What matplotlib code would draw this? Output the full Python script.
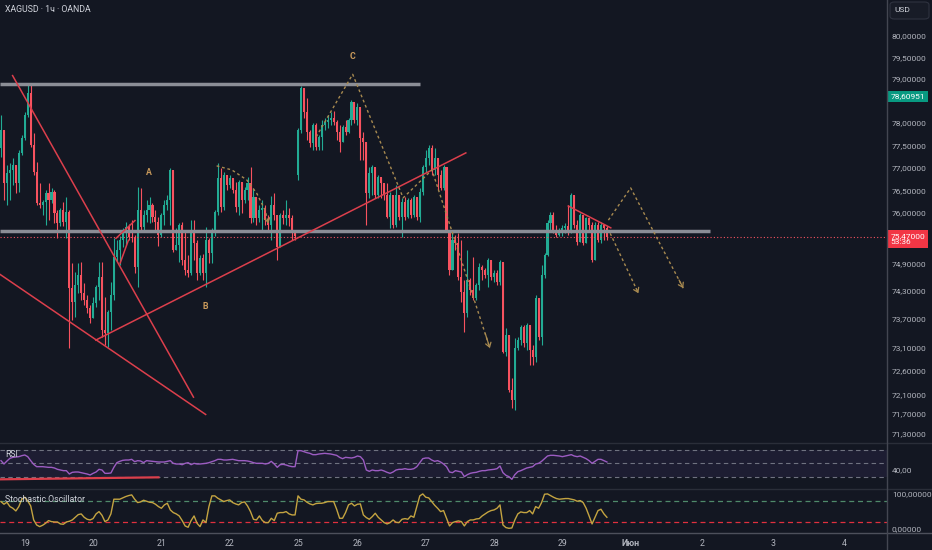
import numpy as np
import matplotlib
matplotlib.use("Agg")
import matplotlib.pyplot as plt
from matplotlib.lines import Line2D
from matplotlib.patches import FancyBboxPatch
from matplotlib.ticker import NullLocator

plt.rcParams['font.family'] = ['Roboto', 'DejaVu Sans']

# ---- data (XAGUSD, 1h bars) ----
day_labels = ['19', '20', '21', '22', '25', '26', '27', '28', '29', 'Июн', '2', '3', '4']
day_bars = [8, 31, 54, 77, 100, 120, 143, 166, 189, 212, 236, 260, 284]

first_open = 77.44
monday_open = 76.84     # gap open of bar 100 (Mon 25)

close_px = [
    77.85, 76.66, 76.88, 76.95, 77.06, 76.66, 77.33, 77.66, 78.18, 78.68,
    77.51, 76.90, 76.22, 76.17, 76.24, 76.44, 76.28, 76.46, 76.00, 75.78,
    76.06, 75.80, 76.02, 74.36, 74.06, 74.43, 74.64, 74.26, 74.11, 73.93,
    73.72, 74.04, 74.39, 74.60, 73.46, 73.40, 73.85, 74.21, 75.03, 75.19,
    75.40, 75.56, 75.69, 75.47, 75.45, 74.82, 76.06, 75.69, 75.95, 76.06,
    76.17, 75.91, 75.80, 75.51, 75.95, 76.17, 76.28, 76.95, 75.19, 75.29,
    75.73, 74.97, 74.75, 74.69, 75.56, 75.34, 74.69, 75.01, 74.69, 75.40,
    75.12, 75.56, 76.02, 76.77, 76.13, 76.84, 76.62, 76.77, 76.50, 76.13,
    76.68, 76.28, 76.50, 76.66, 75.89, 76.35, 75.89, 76.06, 76.11, 75.84,
    75.73, 76.17, 75.95, 75.25, 75.95, 75.89, 75.95, 75.89, 75.56, 75.49,
    77.85, 78.80, 78.25, 77.80, 77.55, 77.96, 77.46, 77.69, 77.96, 78.03,
    78.07, 78.12, 78.03, 77.80, 77.57, 77.91, 77.80, 78.07, 78.48, 78.07,
    78.36, 77.66, 77.57, 76.44, 76.88, 77.02, 76.39, 76.79, 76.66, 76.39,
    75.91, 76.39, 75.73, 76.39, 75.91, 76.24, 75.91, 76.28, 75.95, 76.35,
    75.91, 76.46, 77.02, 77.22, 77.44, 76.95, 77.22, 76.84, 76.55, 77.02,
    75.62, 74.75, 75.40, 75.34, 74.60, 74.28, 73.83, 74.54, 74.32, 74.15,
    74.43, 74.82, 74.75, 74.64, 74.97, 74.60, 74.69, 74.49, 74.92, 73.00,
    73.36, 72.20, 71.99, 73.08, 73.25, 73.53, 73.19, 73.57, 73.04, 72.89,
    74.15, 73.32, 74.64, 75.08, 75.78, 75.95, 75.62, 75.51, 75.62, 75.67,
    75.71, 75.56, 76.39, 75.73, 75.36, 75.95, 75.34, 75.89, 75.73, 74.97,
    75.73, 75.40, 75.73, 75.67, 75.47,
]

high_px = [
    78.18, 77.85, 77.06, 77.10, 77.22, 77.06, 77.40, 77.73, 78.25, 78.87,
    78.87, 77.78, 77.13, 76.66, 76.28, 76.50, 76.66, 76.55, 76.50, 76.06,
    76.11, 76.24, 76.35, 76.06, 74.90, 74.71, 74.90, 74.92, 74.47, 74.21,
    74.00, 74.17, 74.43, 74.92, 74.92, 74.17, 73.89, 74.49, 75.45, 75.40,
    75.49, 75.67, 75.80, 75.75, 75.84, 75.51, 76.57, 76.55, 76.06, 76.28,
    76.35, 76.22, 76.06, 75.91, 76.00, 76.28, 76.39, 76.99, 76.55, 75.67,
    75.78, 75.80, 75.58, 75.08, 75.84, 75.84, 75.40, 75.08, 75.10, 75.69,
    75.45, 75.67, 76.06, 77.10, 76.99, 76.90, 76.79, 76.84, 76.77, 76.68,
    76.73, 76.62, 76.57, 76.79, 77.02, 76.55, 76.28, 76.17, 76.28, 76.17,
    75.95, 76.37, 76.44, 75.95, 76.00, 76.06, 76.28, 76.11, 75.95, 75.58,
    77.89, 78.84, 78.80, 78.57, 77.85, 78.00, 78.00, 77.73, 78.07, 78.12,
    78.18, 78.25, 78.27, 78.07, 77.96, 77.96, 78.07, 78.12, 78.52, 78.30,
    78.46, 78.36, 77.80, 77.57, 77.02, 77.06, 76.99, 76.84, 76.73, 76.62,
    76.66, 76.46, 76.28, 76.62, 76.39, 76.33, 76.35, 76.33, 76.33, 76.39,
    76.28, 76.55, 77.06, 77.40, 77.51, 77.51, 77.44, 77.22, 76.95, 77.06,
    77.02, 75.62, 75.56, 75.51, 75.56, 75.40, 74.54, 75.19, 74.58, 75.03,
    74.47, 74.90, 74.86, 74.79, 75.01, 74.92, 74.75, 74.75, 74.97, 74.92,
    73.51, 73.36, 72.45, 73.29, 73.32, 73.57, 73.57, 73.61, 73.57, 73.15,
    74.21, 74.15, 74.86, 75.12, 75.84, 76.02, 76.02, 75.73, 75.67, 75.73,
    75.78, 76.17, 76.44, 76.17, 75.84, 76.00, 75.95, 75.91, 75.89, 75.80,
    75.80, 75.80, 75.80, 75.75, 75.71,
]

low_px = [
    77.24, 76.28, 76.17, 76.28, 76.62, 76.44, 76.46, 77.28, 77.62, 78.14,
    77.46, 76.84, 76.17, 76.11, 75.95, 75.73, 75.84, 76.22, 75.78, 75.45,
    75.71, 75.71, 75.45, 73.08, 73.68, 73.74, 74.26, 74.11, 74.00, 73.83,
    73.61, 73.74, 73.96, 74.11, 73.32, 73.15, 73.10, 73.46, 74.11, 74.92,
    74.86, 75.25, 75.29, 75.40, 75.36, 74.69, 74.39, 75.62, 75.62, 75.80,
    75.78, 75.80, 75.62, 75.27, 75.47, 75.73, 76.06, 75.73, 75.14, 75.19,
    74.92, 74.86, 74.64, 74.60, 74.64, 74.97, 74.54, 74.64, 74.54, 74.39,
    74.90, 74.90, 75.49, 75.95, 76.02, 76.06, 76.50, 76.55, 76.44, 76.02,
    75.95, 76.00, 76.22, 76.28, 75.78, 75.80, 75.73, 75.80, 75.62, 75.73,
    75.58, 75.40, 75.84, 74.97, 75.25, 75.75, 75.73, 75.71, 75.40, 75.40,
    76.73, 77.78, 78.12, 77.62, 77.46, 77.40, 77.40, 77.40, 77.40, 77.85,
    77.89, 77.96, 77.96, 77.62, 77.35, 77.57, 77.73, 77.78, 77.96, 78.00,
    77.96, 77.17, 77.17, 75.73, 76.33, 76.39, 76.33, 76.33, 76.33, 76.28,
    75.89, 75.67, 75.67, 75.69, 75.84, 75.47, 75.84, 75.89, 75.89, 75.91,
    75.84, 75.80, 76.39, 76.90, 77.06, 76.84, 76.84, 76.50, 76.50, 76.50,
    75.58, 74.64, 74.92, 75.19, 74.54, 74.06, 73.42, 73.74, 74.21, 74.11,
    74.11, 74.32, 74.54, 74.58, 74.39, 74.54, 74.49, 74.43, 74.43, 72.98,
    72.91, 72.16, 71.82, 71.78, 73.04, 73.15, 73.10, 73.04, 72.72, 72.72,
    72.79, 73.25, 73.15, 74.58, 75.06, 75.62, 75.56, 75.47, 75.49, 75.49,
    75.56, 75.51, 75.62, 75.67, 75.29, 75.40, 75.29, 75.47, 75.62, 74.92,
    75.03, 75.36, 75.34, 75.40, 75.40,
]

rsi_vals = [
    54, 49, 53.5, 57.5, 59, 59.5, 60, 61.5, 62.5, 60,
    54, 48.5, 45, 45, 45, 44.5, 44, 44, 43, 41,
    40, 39, 39, 34, 36.5, 37, 37, 36, 35, 34,
    32.5, 35, 37, 41, 40, 35, 35, 35.5, 44, 51,
    53, 54.5, 55, 55, 56, 52.5, 54, 53.5, 51, 54,
    53.5, 53, 52.5, 52, 52, 52, 53, 54, 50, 49,
    49, 48, 50, 51, 48, 50, 49, 49, 49.5, 50,
    51, 52.5, 54, 56, 56, 55, 55, 55.5, 56, 55,
    54, 54, 54, 53.5, 52.5, 51, 50, 50, 50, 49,
    50, 53, 49, 44, 48, 48.5, 47.5, 46, 45, 45,
    69, 69, 67.5, 66, 65, 63, 63, 64, 64.5, 65,
    64.5, 64, 63, 62, 59, 57, 59, 58.5, 58, 59,
    61, 60, 55, 40, 38, 40, 39, 39, 40, 38.5,
    36.5, 35, 37, 40, 41, 41, 42, 41, 41, 42,
    45, 51, 57, 58, 58, 55, 53, 54, 52, 49,
    45, 37, 36, 39, 38, 37, 30, 33, 35, 36,
    36.5, 38, 39, 39, 40, 40.5, 41, 42, 46, 36,
    32, 30, 26, 33, 37.5, 39, 41, 43, 44, 45,
    49, 50, 53, 57, 61, 62, 62, 61.5, 61, 60,
    61, 62, 63, 61, 60, 61, 59, 57, 54, 50,
    53, 56, 56, 54, 52,
]

stoch_vals = [
    78, 70.6, 76.3, 63.9, 59.1, 51.5, 63.9, 84.9, 90.5, 80,
    65.8, 25.8, 11.5, 6.8, 10.6, 16.3, 24, 21, 20, 20,
    14.4, 13.5, 20, 22, 25.8, 33.4, 41, 43, 33.4, 27.7,
    25.8, 29.6, 43, 49.6, 39, 21, 25.8, 43, 84.9, 84.9,
    84.9, 88.7, 92.5, 95.3, 97.2, 84.9, 75.3, 77.2, 82, 79,
    76.3, 75.3, 70.6, 63.9, 59.1, 68.7, 73.4, 54.4, 46.8, 43,
    37.3, 24, 8.7, 4.9, 24, 37.3, 16.3, 6.8, 25.8, 18.2,
    63.9, 94.4, 94.4, 87.7, 82.9, 78.2, 81, 82.9, 75.3, 71.5,
    68.7, 75.3, 77.2, 65.8, 49.6, 27.7, 25.8, 37.3, 24, 18.2,
    18.2, 30.6, 24, 44.9, 46.8, 46.8, 49.6, 43, 40.1, 40.1,
    94.4, 84.9, 83, 76.3, 71.5, 68.7, 72.5, 73.4, 73.4, 75.3,
    78.2, 78.2, 78.2, 56.3, 30.6, 30.6, 46.8, 68.7, 73.4, 65.8,
    70.6, 71.5, 40.1, 32.5, 27.7, 35.3, 44.9, 33.4, 25.8, 18.2,
    14.4, 18.2, 25.8, 19.1, 18.2, 27.7, 29.6, 27.7, 37.3, 33.4,
    63.9, 94.4, 100, 90.6, 88.7, 78.2, 67.7, 59.1, 49.6, 52.5,
    30.6, 8.7, 18.2, 21, 23, 21, 8.7, 21, 25.8, 25.8,
    28.7, 29.6, 37.3, 43, 48.7, 52.5, 54.4, 59.1, 68.7, 11.5,
    4, 2, 3, 25.8, 43, 48.7, 46.8, 46.8, 52.5, 43,
    63.9, 59.1, 75.3, 99.1, 100, 95.3, 90.6, 86.8, 84.9, 85.8,
    86.8, 86.8, 84.9, 83, 79.1, 81, 75.3, 59.1, 37.3, 14.4,
    33.4, 52.5, 56.3, 43, 33.4,
]

price_ticks = [80.0, 79.5, 79.0, 78.0, 77.5, 77.0, 76.5, 76.0,
               74.9, 74.3, 73.7, 73.1, 72.6, 72.1, 71.7, 71.3]
last_price = 75.47
marked_price = 78.60951

# drawings on the chart (bar index, price)
upper_level = 78.89
mid_level = 75.61
red_lines = [((3.9, 79.08), (64.8, 72.05)),
             ((-0.4, 74.66), (68.9, 71.69)),
             ((31.9, 73.25), (156.5, 77.33)),
             ((38.7, 75.44), (45.1, 75.83)),
             ((40.1, 74.90), (42.9, 75.40)),
             ((191.0, 76.15), (205.3, 75.67))]
paths = [[(72.6, 77.04), (77.7, 76.95), (82.7, 76.73), (86.1, 76.43), (88.9, 76.06), (90.0, 75.77)],
         [(106.1, 77.69), (118.4, 79.11), (135.4, 76.33), (145.1, 76.95), (164.6, 73.08)],
         [(204.5, 75.84), (212.0, 76.55), (229.7, 74.36)],
         [(205.1, 75.55), (214.6, 74.25)]]
wave_labels = [('A', 49.8, 76.90), ('B', 68.9, 73.97), ('C', 118.2, 79.53)]

# ---- style ----
BG = '#131722'
TXT = '#b2b5be'
UP = '#22ab94'
DOWN = '#f7525f'
RED_LINE = '#dc3f4c'
PROJ = '#a88a50'
LEVEL = '#8b8e96'
SEP = '#2a2e39'

W, H = 932, 550
AX_R = 887 / W
X_MIN, X_MAX = -0.34, 298.3

fig = plt.figure(figsize=(W / 100, H / 100), dpi=100, facecolor=BG)
ax = fig.add_axes([0, 1 - 443 / H, AX_R, 443 / H])
ax_rsi = fig.add_axes([0, 1 - 489 / H, AX_R, 46 / H])
ax_st = fig.add_axes([0, 1 - 533 / H, AX_R, 44 / H])

for a in (ax, ax_rsi, ax_st):
    a.set_facecolor(BG)
    for s in a.spines.values():
        s.set_visible(False)
    a.yaxis.tick_right()
    a.tick_params(axis='both', length=0, colors=TXT, labelsize=6, pad=3.5)
    a.set_xlim(X_MIN, X_MAX)
    a.set_xticks([])

# ---- candles ----
closes = np.array(close_px)
opens = np.r_[first_open, closes[:-1]]
opens[100] = monday_open
bars = np.arange(len(closes))
col = np.where(closes >= opens, UP, DOWN)
hi = np.maximum(high_px, np.maximum(opens, closes))
lo = np.minimum(low_px, np.minimum(opens, closes))

ax.set_yscale('log')
ax.set_ylim(71.10, 80.83)
ax.vlines(bars, lo, hi, colors=col, lw=0.8)
ax.bar(bars, np.maximum(np.abs(closes - opens), 0.015), bottom=np.minimum(opens, closes),
       width=0.7, color=col, linewidth=0)
ax.set_yticks(price_ticks, labels=[f'{v:.5f}'.replace('.', ',') for v in price_ticks])
ax.yaxis.set_minor_locator(NullLocator())

# levels and drawings
ax.hlines(upper_level, X_MIN, 141, color=LEVEL, lw=2.5)
ax.hlines(mid_level, X_MIN, 238.7, color=LEVEL, lw=2.5)
ax.axhline(last_price, color=DOWN, lw=0.8, ls=(0, (1, 2)))
for (x0, y0), (x1, y1) in red_lines:
    ax.plot([x0, x1], [y0, y1], color=RED_LINE, lw=1.1)
for pts in paths:
    px, py = zip(*pts)
    ax.plot(px, py, color=PROJ, lw=1.0, ls=(0, (2, 2)))
    (xa, ya), (xb, yb) = pts[-2], pts[-1]
    ax.annotate('', xy=(xb, yb), xytext=(xb - 0.08 * (xb - xa), yb - 0.08 * (yb - ya)),
                arrowprops=dict(arrowstyle='->,head_length=0.3,head_width=0.2',
                                color=PROJ, lw=0.9, shrinkA=0, shrinkB=0))
for t, bx, by in wave_labels:
    ax.text(bx, by, t, color='#c99a5b', fontsize=6.3, ha='center', va='center',
            fontweight='bold')

ax.annotate(f'{marked_price:.5f}'.replace('.', ','), xy=(1, marked_price),
            xycoords=('axes fraction', 'data'), xytext=(2.6, 0), textcoords='offset points',
            ha='left', va='center', fontsize=6, color='white', annotation_clip=False,
            bbox=dict(boxstyle='square,pad=0.3', fc='#089981', ec='none'))
ax.annotate(f'{last_price:.5f}'.replace('.', ',') + '\n53:36', xy=(1, last_price),
            xycoords=('axes fraction', 'data'), xytext=(2.6, 3), textcoords='offset points',
            ha='left', va='top', fontsize=6, color='white', linespacing=1.1,
            annotation_clip=False,
            bbox=dict(boxstyle='square,pad=0.3', fc='#f23645', ec='none'))

# ---- RSI ----
ax_rsi.set_ylim(11.5, 80.5)
ax_rsi.axhspan(30, 70, color='#7e57c2', alpha=0.1, lw=0)
for lvl in (70, 50, 30):
    ax_rsi.axhline(lvl, color='#6f7280', lw=0.8, ls=(0, (4, 3)))
ax_rsi.plot(bars, rsi_vals, color='#9c5cc2', lw=1.0)
ax_rsi.plot([-0.4, 53], [26, 29], color=RED_LINE, lw=1.6)
ax_rsi.set_yticks([40], labels=['40,00'])
ax_rsi.text(5 / 887, 0.75, 'RSI', transform=ax_rsi.transAxes, color='#d1d4dc',
            fontsize=6.3, va='center')

# ---- Stochastic ----
ax_st.set_ylim(-11.4, 114)
ax_st.axhline(80, color='#4f8a6a', lw=0.9, ls=(0, (4, 3)))
ax_st.axhline(20, color='#e0303e', lw=0.9, ls=(0, (4, 3)))
ax_st.plot(bars, stoch_vals, color='#c4a441', lw=1.0)
ax_st.set_yticks([100, 0], labels=['100,00000', '0,00000'])
ax_st.text(5 / 887, 0.75, 'Stochastic Oscillator', transform=ax_st.transAxes,
           color='#d1d4dc', fontsize=6.3, va='center')
ax_st.set_xticks(day_bars, labels=day_labels)
ax_st.tick_params(axis='x', pad=4, labelsize=6.3)
for lab in ax_st.get_xticklabels():
    if lab.get_text() == 'Июн':
        lab.set_fontweight('bold')

# ---- frame lines, header ----
for yy, c in ((443, SEP), (489, SEP), (533, '#4d505b')):
    fig.add_artist(Line2D([0, 1], [1 - yy / H] * 2, transform=fig.transFigure, color=c, lw=1))
fig.add_artist(Line2D([AX_R, AX_R], [0, 1], transform=fig.transFigure, color='#434651', lw=1))

fig.text(5 / W, 1 - 10 / H, 'XAGUSD · 1ч · OANDA', color='#d1d4dc', fontsize=6.3,
         va='center', ha='left')
fig.add_artist(FancyBboxPatch((890 / W, 1 - 19 / H), 39 / W, 17 / H,
                              boxstyle='round,pad=0,rounding_size=0.005',
                              transform=fig.transFigure, fc='#181c27', ec='#2f3340', lw=0.8))
fig.text(894 / W, 1 - 10.5 / H, 'USD', color='#d1d4dc', fontsize=6, va='center', ha='left')

fig.savefig('out.png', dpi=100, facecolor=BG)
